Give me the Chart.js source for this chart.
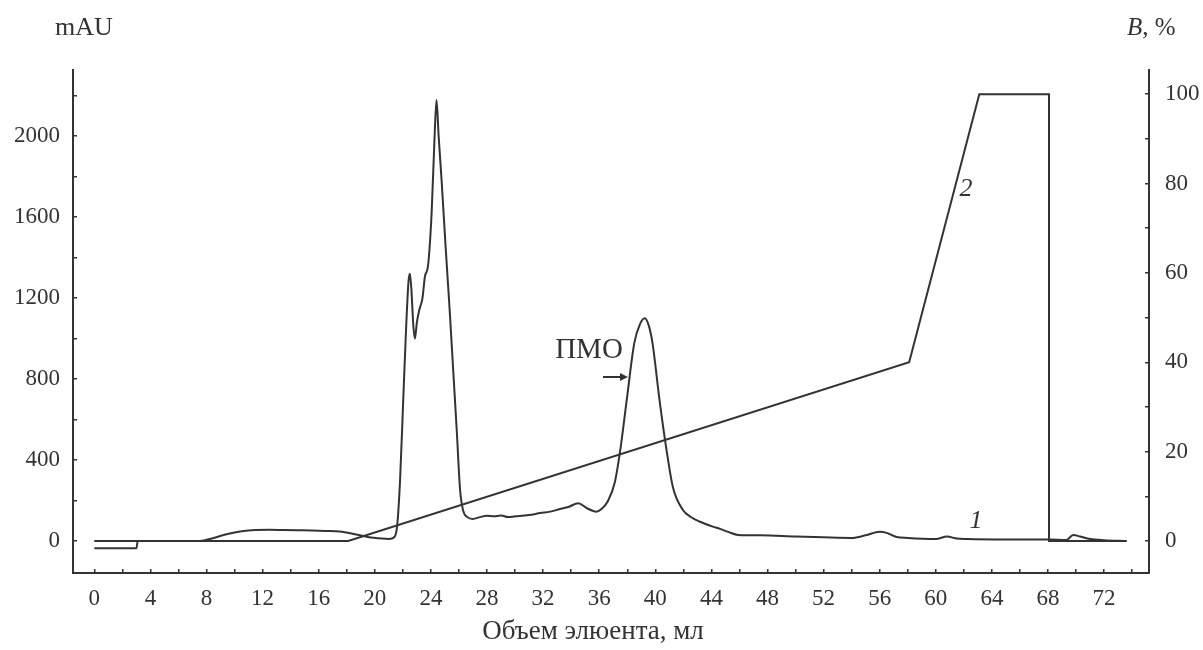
<!DOCTYPE html>
<html lang="ru">
<head>
<meta charset="UTF-8">
<title>Хроматограмма</title>
<script src="https://cdn.jsdelivr.net/npm/chart.js"></script>
<style>
  html, body { margin: 0; padding: 0; background: #fff; }
  canvas { display: block; }
</style>
</head>
<body>
<canvas id="chart" width="1203" height="650"></canvas>
<script>
// curve 1: absorbance, mAU, against eluent volume, ml
const uvVolume = [0, 3.0, 3.1, 7.5, 8.5, 9.5, 10.5, 11.5, 12.5, 13.5, 14.5, 15.5, 16.5, 17.5, 18.5, 19.5,
  20.5, 21.0, 21.4, 21.6, 21.8, 22.0, 22.2, 22.4, 22.5, 22.6, 22.75, 22.86, 23.0, 23.17, 23.4, 23.57,
  23.8, 24.05, 24.28, 24.4, 24.55, 24.76, 25.05, 25.35, 25.6, 25.84, 26.08, 26.3, 26.6, 27.0, 27.5,
  28.0, 28.5, 29.0, 29.5, 30.0, 30.5, 31.0, 31.8, 32.5, 33.2, 33.8, 34.5, 35.1, 35.8, 36.2, 36.6,
  37.1, 37.5, 37.96, 38.5, 38.9, 39.25, 39.55, 39.8, 40.3, 40.8, 41.25, 41.97, 42.5, 43.2, 44.1,
  44.6, 45.2, 45.9, 47.5, 50, 52, 54, 55, 56, 56.5, 57.2, 58, 60, 60.8, 61.5, 62.2, 65, 68.1, 69.3,
  69.8, 70.3, 71.0, 72, 73.6];
const uvAbs = [-36, -36, 0, 0, 15, 35, 48, 54, 55, 54, 53, 52, 50, 47, 35, 20,
  12, 10, 20, 80, 300, 650, 1000, 1280, 1320, 1250, 1060, 1000, 1080, 1141, 1200, 1305,
  1363, 1620, 2030, 2178, 2000, 1783, 1450, 1126, 830, 548, 252, 150, 118, 109, 118,
  125, 122, 126, 118, 122, 125, 128, 138, 145, 158, 168, 187, 163, 145, 160, 195,
  286, 449, 696, 977, 1070, 1100, 1060, 977, 696, 449, 267, 153, 120, 95, 71,
  60, 45, 30, 28, 22, 18, 15, 28, 46, 40, 20, 15, 10, 22, 12, 10, 8, 8, 5,
  30, 22, 10, 4, 0];

// curve 2: buffer B, %
const gradVolume = [0, 18.1, 58.1, 63.1, 68.07, 68.07, 73.6];
const gradB = [0, 0, 40, 100, 100, 0, 0];

const ink = '#333';
const serif = "'Liberation Serif', 'DejaVu Serif', serif";

function toPoints(xs, ys) {
  return xs.map((x, i) => ({ x: x, y: ys[i] }));
}

const labelsPlugin = {
  id: 'labels',
  afterDraw(chart) {
    const ctx = chart.ctx;
    ctx.save();
    ctx.fillStyle = ink;
    ctx.textBaseline = 'middle';

    ctx.font = '26px ' + serif;
    ctx.textAlign = 'left';
    ctx.fillText('mAU', 55, 28);

    ctx.font = 'italic 25px ' + serif;
    ctx.fillText('B', 1127, 28);
    const bw = ctx.measureText('B').width;
    ctx.font = '25px ' + serif;
    ctx.fillText(', %', 1127 + bw, 28);

    ctx.font = '27px ' + serif;
    ctx.textAlign = 'center';
    ctx.fillText('Объем элюента, мл', 593, 632);

    ctx.font = '29px ' + serif;
    ctx.fillText('ПМО', 589, 350);

    // arrow
    ctx.strokeStyle = ink;
    ctx.lineWidth = 2;
    ctx.beginPath();
    ctx.moveTo(603, 377);
    ctx.lineTo(625, 377);
    ctx.stroke();
    ctx.beginPath();
    ctx.moveTo(628, 377);
    ctx.lineTo(620, 373);
    ctx.lineTo(620, 381);
    ctx.closePath();
    ctx.fill();

    ctx.font = 'italic 26px ' + serif;
    ctx.fillText('1', 976, 521);
    ctx.fillText('2', 966, 189);
    ctx.restore();
  }
};

const axisGrid = {
  drawOnChartArea: false,
  drawTicks: true,
  tickLength: -4,
  color: ink,
  lineWidth: 1.5
};
const axisBorder = { display: true, color: ink, width: 2 };
const tickFont = { family: serif, size: 23 };

new Chart(document.getElementById('chart'), {
  type: 'scatter',
  data: {
    datasets: [
      {
        label: '1',
        data: toPoints(uvVolume, uvAbs),
        yAxisID: 'y',
        showLine: true,
        borderColor: ink,
        borderWidth: 2,
        pointRadius: 0,
        cubicInterpolationMode: 'monotone'
      },
      {
        label: '2',
        data: toPoints(gradVolume, gradB),
        yAxisID: 'y2',
        showLine: true,
        borderColor: ink,
        borderWidth: 2,
        pointRadius: 0,
        tension: 0
      }
    ]
  },
  options: {
    responsive: false,
    animation: false,
    layout: { padding: { top: 70, left: 0, right: 0, bottom: 0 } },
    plugins: { legend: { display: false }, tooltip: { enabled: false } },
    scales: {
      x: {
        type: 'linear',
        min: -1.52,
        max: 75.2,
        grid: axisGrid,
        border: axisBorder,
        ticks: {
          stepSize: 2,
          includeBounds: false,
          padding: 16,
          maxRotation: 0,
          autoSkip: false,
          color: ink,
          font: tickFont,
          callback: v => (Math.round(v) % 4 === 0 ? String(Math.round(v)) : '')
        },
        afterFit(scale) { scale.height = 77; }
      },
      y: {
        position: 'left',
        min: -158,
        max: 2326,
        grid: axisGrid,
        border: axisBorder,
        ticks: {
          stepSize: 200,
          includeBounds: false,
          padding: 17,
          autoSkip: false,
          color: ink,
          font: tickFont,
          callback: v => (v % 400 === 0 ? String(v) : '')
        },
        afterFit(scale) { scale.width = 73; }
      },
      y2: {
        position: 'right',
        min: -7.16,
        max: 105.4,
        grid: axisGrid,
        border: axisBorder,
        ticks: {
          stepSize: 10,
          includeBounds: false,
          padding: 20,
          autoSkip: false,
          color: ink,
          font: tickFont,
          callback: v => (v % 20 === 0 ? String(v) : '')
        },
        afterFit(scale) { scale.width = 54; }
      }
    }
  },
  plugins: [labelsPlugin]
});
</script>
</body>
</html>
